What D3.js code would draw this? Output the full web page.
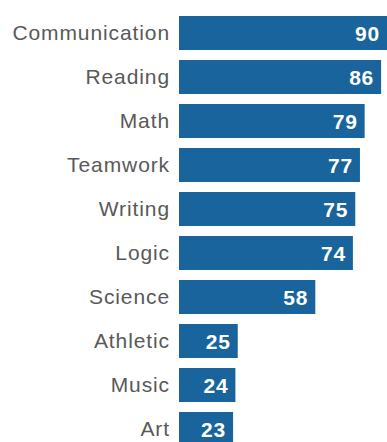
<!DOCTYPE html>
<html>
<head>
<meta charset="utf-8">
<title>Skills bar chart</title>
<script src="https://d3js.org/d3.v7.min.js"></script>
<style>
  body { margin: 0; background: #fff; }
  svg { display: block; }
</style>
</head>
<body>
<script>
const categories = ["Communication", "Reading", "Math", "Teamwork", "Writing", "Logic", "Science", "Athletic", "Music", "Art"];
const values = [90, 86, 79, 77, 75, 74, 58, 25, 24, 23];

const w = 387, h = 442;
const marginLeft = 179, marginTop = 16;

const svg = d3.select("body").append("svg")
  .attr("width", w)
  .attr("height", h);

// 44px per row, bars ~34px tall (last bar runs past the bottom edge)
const y = d3.scaleBand()
  .domain(categories)
  .range([marginTop, marginTop + 430])
  .paddingInner(0.227)
  .paddingOuter(0);

const x = d3.scaleLinear()
  .domain([0, 90])
  .range([marginLeft, marginLeft + 211.5]);

const rows = svg.selectAll("g.row")
  .data(categories.map((c, i) => ({ cat: c, val: values[i] })))
  .enter()
  .append("g")
  .attr("class", "row");

rows.append("rect")
  .attr("x", x(0))
  .attr("y", d => y(d.cat))
  .attr("width", d => x(d.val) - x(0))
  .attr("height", y.bandwidth())
  .attr("fill", "#19649c");

rows.append("text")
  .attr("x", marginLeft - 9)
  .attr("y", d => y(d.cat) + y.bandwidth() / 2)
  .attr("dy", "0.35em")
  .attr("text-anchor", "end")
  .attr("font-family", "Liberation Sans, Arial, sans-serif")
  .attr("font-size", 21)
  .attr("letter-spacing", 0.9)
  .attr("fill", "#595959")
  .text(d => d.cat);

rows.append("text")
  .attr("x", d => Math.min(x(d.val), w) - 7)
  .attr("y", d => y(d.cat) + y.bandwidth() / 2)
  .attr("dy", "0.36em")
  .attr("text-anchor", "end")
  .attr("font-family", "Liberation Sans, Arial, sans-serif")
  .attr("font-size", 21)
  .attr("font-weight", "bold")
  .attr("letter-spacing", 0.8)
  .attr("fill", "#fff")
  .text(d => d.val);
</script>
</body>
</html>
